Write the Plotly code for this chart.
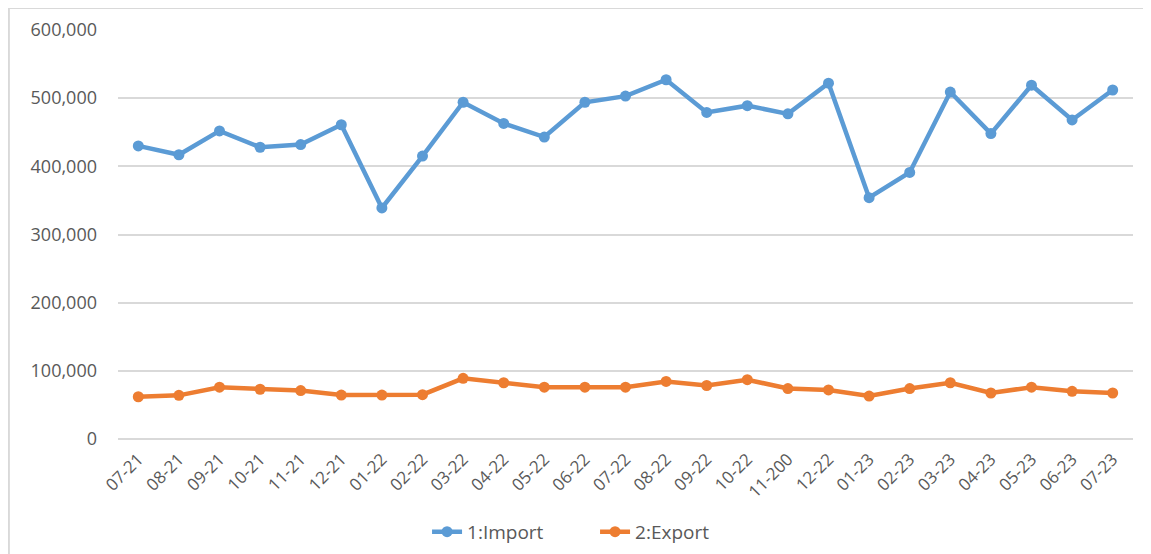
import plotly.graph_objects as go

months = ["07-21", "08-21", "09-21", "10-21", "11-21", "12-21", "01-22", "02-22",
          "03-22", "04-22", "05-22", "06-22", "07-22", "08-22", "09-22", "10-22",
          "11-200", "12-22", "01-23", "02-23", "03-23", "04-23", "05-23", "06-23", "07-23"]
imports = [430000, 417000, 452000, 428000, 432000, 461000, 339000, 415000,
           494000, 463000, 443000, 494000, 503000, 527000, 479000, 489000,
           477000, 522000, 354000, 391000, 509000, 448000, 519000, 468000, 512000]
exports = [62000, 64000, 76000, 73000, 71000, 64500, 64500, 65000,
           89000, 82500, 76000, 76000, 76000, 84500, 78500, 87000,
           74000, 72000, 63000, 74000, 82500, 67500, 76000, 70000, 67500]
y_ticks = [0, 100000, 200000, 300000, 400000, 500000, 600000]
y_labels = ["0", "100,000", "200,000", "300,000", "400,000", "500,000", "600,000"]

fig = go.Figure()
fig.add_trace(go.Scatter(x=months, y=imports, name="1:Import", mode="lines+markers",
                         line=dict(color="#5B9BD5", width=4.5), marker=dict(size=11, color="#5B9BD5")))
fig.add_trace(go.Scatter(x=months, y=exports, name="2:Export", mode="lines+markers",
                         line=dict(color="#ED7D31", width=4.5), marker=dict(size=11, color="#ED7D31")))

top = 22
plot_h = 409
fig.update_layout(
    width=1151, height=554,
    margin=dict(l=110, r=26, t=top, b=554 - top - plot_h, autoexpand=False),
    plot_bgcolor="white", paper_bgcolor="white",
    font=dict(family="Open Sans", color="#595959", size=16),
    showlegend=True,
    legend=dict(orientation="h", x=0.47, xanchor="center", y=-0.227, yanchor="middle",
                font=dict(size=19, color="#595959"), entrywidth=123),
    xaxis=dict(type="category", range=[-0.5, 24.5], tickangle=-45, showgrid=False,
               showline=False, ticks="", tickfont=dict(size=17), ticklabelstandoff=6,
               automargin=False),
    yaxis=dict(range=[0, 600000], tickvals=y_ticks, ticktext=y_labels, showgrid=True,
               gridcolor="#D9D9D9", gridwidth=1.5, zeroline=True, zerolinecolor="#D9D9D9",
               zerolinewidth=1.5, showline=False, ticks="", tickfont=dict(size=18),
               ticklabelstandoff=20, automargin=False),
    shapes=[
        dict(type="line", xref="paper", yref="paper", x0=-0.1075, x1=1.05,
             y0=(top + plot_h) / plot_h, y1=(top + plot_h) / plot_h,
             line=dict(color="#D9D9D9", width=2)),
        dict(type="line", xref="paper", yref="paper", x0=-0.1075, x1=-0.1075,
             y0=(top + plot_h) / plot_h, y1=-0.4, line=dict(color="#D9D9D9", width=2)),
    ],
)

fig.write_html("out.html")
